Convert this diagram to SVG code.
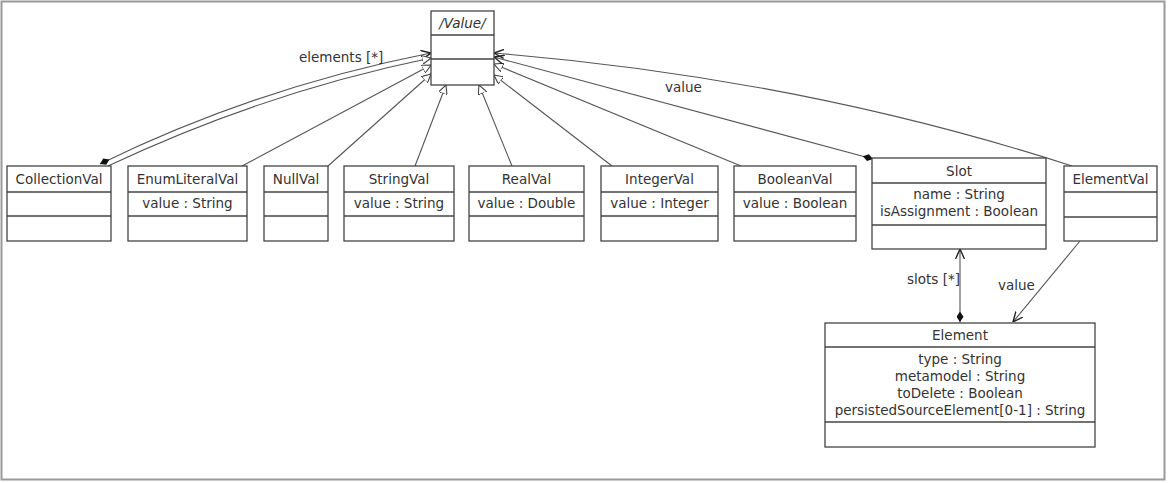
<svg xmlns="http://www.w3.org/2000/svg" width="1168" height="483" viewBox="0 0 1168 483">
<style>
.box{fill:#fff;stroke:#444;stroke-width:1.3}
.div{stroke:#444;stroke-width:1.3}
.t{font-family:"DejaVu Sans",sans-serif;font-size:13.5px;fill:#333;text-anchor:middle}
.lbl{font-family:"DejaVu Sans",sans-serif;font-size:13.5px;fill:#333}
.c{fill:none;stroke:#555;stroke-width:1.1}
.gen{marker-end:url(#tri)}
.nav{marker-end:url(#open)}
.comp{marker-start:url(#dia)}
</style>
<defs>
<marker id="tri" viewBox="0 0 10 10" refX="10" refY="5" markerWidth="9" markerHeight="9" markerUnits="userSpaceOnUse" orient="auto">
<path d="M0,0 L10,5 L0,10 z" fill="#fff" stroke="#444" stroke-width="1.2"/>
</marker>
<marker id="open" viewBox="0 0 10 10" refX="10" refY="5" markerWidth="10" markerHeight="10" markerUnits="userSpaceOnUse" orient="auto">
<path d="M0,0.5 L10,5 L0,9.5" fill="none" stroke="#222" stroke-width="1.4"/>
</marker>
<marker id="dia" viewBox="0 0 12 8" refX="0" refY="4" markerWidth="11" markerHeight="7" markerUnits="userSpaceOnUse" orient="auto">
<path d="M0,4 L6,0 L12,4 L6,8 z" fill="#111"/>
</marker>
</defs>
<rect x="1.5" y="1.5" width="1163" height="478" fill="#fff" stroke="#999" stroke-width="2"/>

<g id="connectors">
<path class="c comp nav" d="M100,164 Q258,87 431,53"/>
<path class="c gen" d="M108,166 Q265,92 431,58"/>
<path class="c gen" d="M242,166 L431,65"/>
<path class="c gen" d="M328,166 L431,74"/>
<path class="c gen" d="M415,166 L446,85"/>
<path class="c gen" d="M512,166 L479,85"/>
<path class="c gen" d="M612,166 L494,75"/>
<path class="c gen" d="M741,166 L494,64"/>
<path class="c comp nav" d="M873,159 L494,57"/>
<path class="c nav" d="M1072,166 Q800,78 494,53"/>
<path class="c comp nav" d="M960,322 L960,249"/>
<path class="c nav" d="M1080,241 L1013,322"/>
<text class="lbl" x="299" y="62">elements [*]</text>
<text class="lbl" x="665" y="92">value</text>
<text class="lbl" x="907" y="284">slots [*]</text>
<text class="lbl" x="998" y="290">value</text>
</g>

<g id="Value">
<rect class="box" x="431" y="11" width="63" height="74"/>
<line class="div" x1="431" y1="35" x2="494" y2="35"/>
<line class="div" x1="431" y1="59" x2="494" y2="59"/>
<text class="t" x="462.5" y="27.5" font-style="italic">/Value/</text>
</g>

<g id="CollectionVal">
<rect class="box" x="7" y="166" width="104" height="75"/>
<line class="div" x1="7" y1="192" x2="111" y2="192"/>
<line class="div" x1="7" y1="216" x2="111" y2="216"/>
<text class="t" x="59" y="184">CollectionVal</text>
</g>

<g id="EnumLiteralVal">
<rect class="box" x="128" y="166" width="119" height="75"/>
<line class="div" x1="128" y1="192" x2="247" y2="192"/>
<line class="div" x1="128" y1="216" x2="247" y2="216"/>
<text class="t" x="187.5" y="184">EnumLiteralVal</text>
<text class="t" x="187.5" y="208">value : String</text>
</g>

<g id="NullVal">
<rect class="box" x="264" y="166" width="64" height="75"/>
<line class="div" x1="264" y1="192" x2="328" y2="192"/>
<line class="div" x1="264" y1="216" x2="328" y2="216"/>
<text class="t" x="296" y="184">NullVal</text>
</g>

<g id="StringVal">
<rect class="box" x="344" y="166" width="110" height="75"/>
<line class="div" x1="344" y1="192" x2="454" y2="192"/>
<line class="div" x1="344" y1="216" x2="454" y2="216"/>
<text class="t" x="399" y="184">StringVal</text>
<text class="t" x="399" y="208">value : String</text>
</g>

<g id="RealVal">
<rect class="box" x="469" y="166" width="115" height="75"/>
<line class="div" x1="469" y1="192" x2="584" y2="192"/>
<line class="div" x1="469" y1="216" x2="584" y2="216"/>
<text class="t" x="526.5" y="184">RealVal</text>
<text class="t" x="526.5" y="208">value : Double</text>
</g>

<g id="IntegerVal">
<rect class="box" x="601" y="166" width="117" height="75"/>
<line class="div" x1="601" y1="192" x2="718" y2="192"/>
<line class="div" x1="601" y1="216" x2="718" y2="216"/>
<text class="t" x="659.5" y="184">IntegerVal</text>
<text class="t" x="659.5" y="208">value : Integer</text>
</g>

<g id="BooleanVal">
<rect class="box" x="734" y="166" width="122" height="75"/>
<line class="div" x1="734" y1="192" x2="856" y2="192"/>
<line class="div" x1="734" y1="216" x2="856" y2="216"/>
<text class="t" x="795" y="184">BooleanVal</text>
<text class="t" x="795" y="208">value : Boolean</text>
</g>

<g id="Slot">
<rect class="box" x="872" y="158" width="174" height="91"/>
<line class="div" x1="872" y1="183" x2="1046" y2="183"/>
<line class="div" x1="872" y1="225" x2="1046" y2="225"/>
<text class="t" x="959" y="175.5">Slot</text>
<text class="t" x="959" y="199">name : String</text>
<text class="t" x="959" y="216">isAssignment : Boolean</text>
</g>

<g id="ElementVal">
<rect class="box" x="1064" y="166" width="93" height="75"/>
<line class="div" x1="1064" y1="192" x2="1157" y2="192"/>
<line class="div" x1="1064" y1="217" x2="1157" y2="217"/>
<text class="t" x="1110.5" y="184">ElementVal</text>
</g>

<g id="Element">
<rect class="box" x="825" y="323" width="270" height="124"/>
<line class="div" x1="825" y1="347" x2="1095" y2="347"/>
<line class="div" x1="825" y1="422" x2="1095" y2="422"/>
<text class="t" x="960" y="339.5">Element</text>
<text class="t" x="960" y="364">type : String</text>
<text class="t" x="960" y="380.5">metamodel : String</text>
<text class="t" x="960" y="397.5">toDelete : Boolean</text>
<text class="t" x="960" y="414.5">persistedSourceElement[0-1] : String</text>
</g>
</svg>
